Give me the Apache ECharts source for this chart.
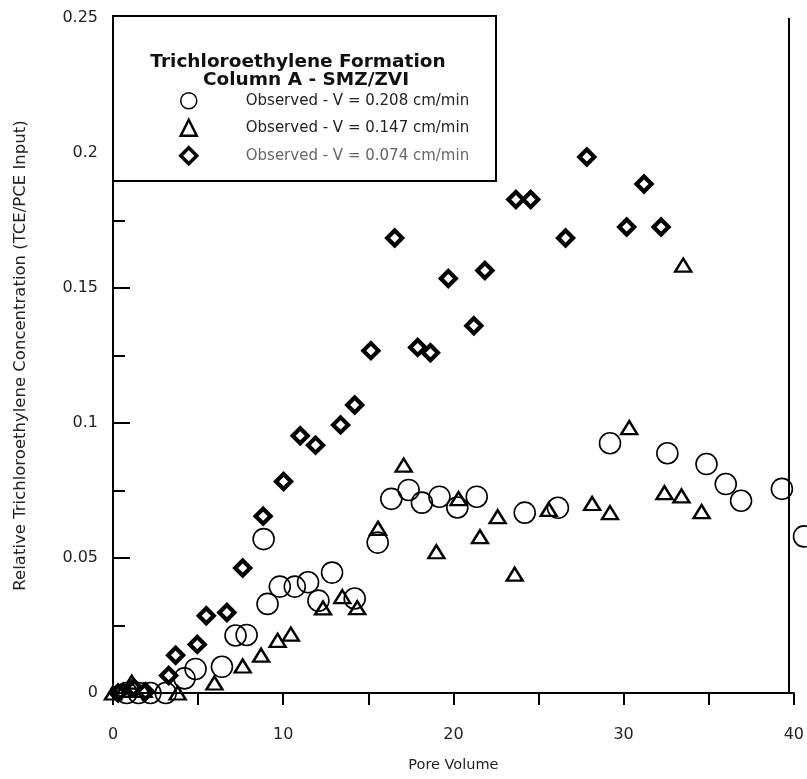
<!DOCTYPE html>
<html>
<head>
<meta charset="utf-8">
<script src="https://cdn.jsdelivr.net/npm/echarts@6/dist/echarts.min.js"></script>
<style>html,body{margin:0;padding:0;background:#fff}#c{width:807px;height:779px}</style>
</head>
<body>
<div id="c"></div>
<script>
// Data: [pore volume, relative TCE concentration]
const seriesNames = [
  'Observed - V = 0.208 cm/min',
  'Observed - V = 0.147 cm/min',
  'Observed - V = 0.074 cm/min'
];
const circles = [
  [0.8,0],[1.5,0],[2.2,0],[3.1,0],[4.2,0.0054],[4.85,0.0089],[6.4,0.0097],[7.2,0.0213],
  [7.85,0.0215],[8.85,0.057],[9.08,0.033],[9.8,0.0394],[10.68,0.0394],[11.46,0.041],
  [12.07,0.0342],[12.87,0.0446],[14.2,0.035],[15.55,0.0557],[16.35,0.0719],[17.37,0.0752],
  [18.15,0.0705],[19.18,0.0727],[20.23,0.0687],[21.37,0.0727],[24.19,0.0668],[26.14,0.0686],
  [29.2,0.0925],[32.57,0.0888],[34.87,0.0848],[36.0,0.0774],[36.9,0.0712],[39.3,0.0756],[40.6,0.058]
];
const triangles = [
  [0,0],[0.6,0.001],[1.1,0.004],[1.8,0.001],[3.8,0],[5.96,0.0037],[7.62,0.010],[8.7,0.014],
  [9.67,0.0195],[10.45,0.0218],[12.34,0.0315],[13.47,0.0357],[14.35,0.0316],[15.57,0.061],
  [17.08,0.0844],[19.0,0.0523],[20.3,0.072],[21.56,0.0579],[22.6,0.0653],[23.6,0.044],
  [25.6,0.068],[28.15,0.0702],[29.2,0.0668],[30.33,0.0983],[32.4,0.0742],[33.4,0.073],
  [33.5,0.1585],[34.58,0.0672]
];
const diamonds = [
  [0.3,0],[1.2,0.002],[1.9,0.0005],[3.27,0.0065],[3.68,0.014],[4.95,0.018],[5.48,0.0286],
  [6.69,0.0298],[7.62,0.0463],[8.82,0.0655],[10.02,0.0783],[11.0,0.0953],[11.9,0.0918],
  [13.37,0.0993],[14.2,0.1067],[15.15,0.1268],[16.55,0.1685],[17.9,0.128],[18.65,0.126],
  [19.7,0.1535],[21.2,0.136],[21.85,0.1565],[23.67,0.1828],[24.54,0.1828],[26.59,0.1685],
  [27.84,0.1985],[30.18,0.1726],[31.2,0.1885],[32.2,0.1726]
];
const xTicks = {min: 0, max: 40, interval: 10};
const yTicks = {min: 0, max: 0.25, interval: 0.05};
const edgeLineX = 39.7;
const titleLines = ['Trichloroethylene Formation', 'Column A - SMZ/ZVI'];
const xName = 'Pore Volume';
const yName = 'Relative Trichloroethylene Concentration (TCE/PCE Input)';

const FONT = 'DejaVu Sans';
const chart = echarts.init(document.getElementById('c'), null, {renderer: 'canvas'});
const hollow = {color: 'rgba(0,0,0,0)', borderColor: '#000', opacity: 1};

chart.setOption({
  animation: false,
  backgroundColor: '#fff',
  grid: {left: 113, right: 10, top: 18, bottom: 86, containLabel: false},
  xAxis: {
    type: 'value', min: xTicks.min, max: xTicks.max, interval: xTicks.interval,
    name: xName, nameLocation: 'middle', nameGap: 65,
    nameTextStyle: {fontFamily: FONT, fontSize: 14.5, color: '#222'},
    axisLine: {show: true, lineStyle: {color: '#000', width: 2}},
    axisTick: {show: true, inside: false, length: 12, lineStyle: {color: '#000', width: 2}},
    minorTick: {show: true, splitNumber: 2, length: 12, lineStyle: {color: '#000', width: 2}},
    axisLabel: {margin: 34, fontFamily: FONT, fontSize: 16, color: '#222'},
    splitLine: {show: false}
  },
  yAxis: {
    type: 'value', min: yTicks.min, max: yTicks.max, interval: yTicks.interval,
    name: yName, nameLocation: 'middle', nameGap: 84,
    nameTextStyle: {fontFamily: FONT, fontSize: 16.5, color: '#222'},
    axisLine: {show: true, lineStyle: {color: '#000', width: 2}},
    axisTick: {show: true, inside: true, length: 17, lineStyle: {color: '#000', width: 2}},
    minorTick: {show: true, splitNumber: 2, length: 12, lineStyle: {color: '#000', width: 2}},
    axisLabel: {margin: 15, fontFamily: FONT, fontSize: 16, color: '#222'},
    splitLine: {show: false}
  },
  graphic: [
    {type: 'rect', z: 1, shape: {x: 113, y: 16, width: 383, height: 165},
     style: {fill: '#fff', stroke: '#000', lineWidth: 2}},
    {type: 'text', z: 2, x: 298, y: 62,
     style: {text: titleLines[0], font: 'bold 18.5px "DejaVu Sans"', fill: '#111', textAlign: 'center', textVerticalAlign: 'middle'}},
    {type: 'text', z: 2, x: 306, y: 80,
     style: {text: titleLines[1], font: 'bold 18.5px "DejaVu Sans"', fill: '#111', textAlign: 'center', textVerticalAlign: 'middle'}}
  ],
  legend: {
    z: 10, orient: 'vertical', left: 174, top: 87, itemGap: 9,
    itemWidth: 16, itemHeight: 16, selectedMode: false,
    textStyle: {fontFamily: FONT, fontSize: 15, color: '#222', padding: [0, 0, 0, 44]},
    data: [
      {name: seriesNames[0], icon: 'circle', itemStyle: {color: 'rgba(0,0,0,0)', borderColor: '#000', borderWidth: 1.5, opacity: 1}},
      {name: seriesNames[1], icon: 'triangle', itemStyle: {color: 'rgba(0,0,0,0)', borderColor: '#000', borderWidth: 2.5, opacity: 1}},
      {name: seriesNames[2], icon: 'diamond', itemStyle: {color: 'rgba(0,0,0,0)', borderColor: '#000', borderWidth: 3.5, opacity: 1}, textStyle: {color: '#666'}}
    ]
  },
  series: [
    {name: seriesNames[0], type: 'scatter', data: circles, clip: false, symbol: 'circle', symbolSize: 21,
     itemStyle: Object.assign({borderWidth: 1.6}, hollow), z: 3,
     markLine: {silent: true, symbol: 'none', label: {show: false},
       lineStyle: {color: '#000', width: 2, type: 'solid'}, data: [{xAxis: edgeLineX}]}},
    {name: seriesNames[1], type: 'scatter', data: triangles, clip: false, symbol: 'triangle', symbolSize: [16, 13],
     itemStyle: Object.assign({borderWidth: 2.4}, hollow), z: 4},
    {name: seriesNames[2], type: 'scatter', data: diamonds, clip: false, symbol: 'diamond', symbolSize: 15,
     itemStyle: Object.assign({borderWidth: 4.2}, hollow), z: 5}
  ]
});
</script>
</body>
</html>
